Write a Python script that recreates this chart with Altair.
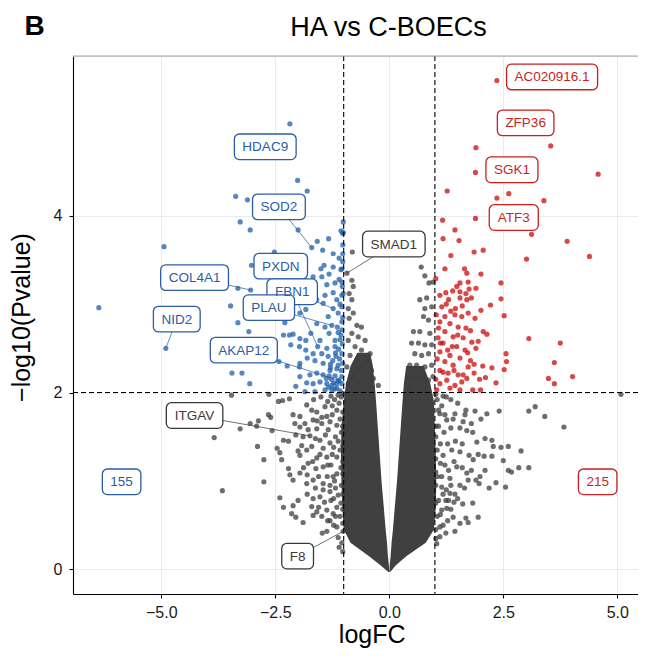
import altair as alt
import pandas as pd

FONT = "Liberation Sans"

# ---------------- data (logFC, -log10 Pvalue) ----------------
blue_pts = [
    (-2.18, 5.04), (-2.01, 4.40), (-1.80, 4.28), (-3.37, 4.22), (-3.11, 4.18), (-3.27, 3.93), (-3.05, 3.84), (-2.00, 3.84), (-4.94, 3.65), (-1.70, 3.64),
    (-1.58, 3.71), (-1.33, 3.74), (-1.02, 3.67), (-1.23, 3.57), (-1.01, 3.93), (-2.52, 3.59), (-3.02, 3.44), (-1.50, 3.40), (-1.32, 3.34), (-1.04, 3.40),
    (-1.67, 3.31), (-1.48, 3.31), (-1.37, 3.22), (-1.19, 3.24), (-1.04, 3.25), (-3.32, 3.18), (-3.04, 3.16), (-1.41, 3.10), (-1.23, 3.13), (-1.04, 3.10),
    (-3.48, 2.98), (-1.83, 2.94), (-1.96, 2.90), (-1.23, 2.95), (-1.12, 2.90), (-1.04, 2.80), (-3.32, 2.79), (-2.29, 2.79), (-1.59, 2.78), (-1.41, 2.74),
    (-1.26, 2.76), (-1.12, 2.68), (-3.08, 2.69), (-4.90, 2.50), (-2.32, 2.65), (-2.19, 2.65), (-2.11, 2.66), (-1.96, 2.61), (-1.83, 2.59), (-2.16, 2.54),
    (-1.97, 2.52), (-1.57, 2.52), (-1.37, 2.50), (-1.19, 2.52), (-1.08, 2.60), (-1.83, 2.48), (-1.67, 2.44), (-1.48, 2.44), (-1.34, 2.41), (-1.17, 2.41),
    (-1.04, 2.44), (-2.42, 2.35), (-1.80, 2.39), (-1.63, 2.36), (-1.96, 2.33), (-2.24, 2.30), (-1.97, 2.29), (-1.45, 2.33), (-1.29, 2.32), (-1.12, 2.31),
    (-3.45, 2.22), (-3.23, 2.22), (-1.96, 2.18), (-1.74, 2.20), (-1.59, 2.22), (-1.45, 2.20), (-1.32, 2.19), (-1.19, 2.19), (-1.04, 2.18), (-3.06, 2.10),
    (-2.05, 2.07), (-1.81, 2.11), (-1.67, 2.10), (-1.52, 2.12), (-1.37, 2.10), (-1.26, 2.08), (-1.15, 2.10), (-1.04, 2.10), (-1.85, 2.01), (-1.63, 2.01),
    (-1.41, 2.03), (-1.26, 2.03), (-1.15, 2.05), (-1.12, 2.14), (-1.30, 2.25), (-6.37, 2.96), (-1.34, 2.86), (-1.45, 3.01), (-1.59, 3.05), (-1.72, 2.67),
    (-1.32, 2.67), (-1.19, 2.59), (-1.52, 2.59), (-1.04, 2.71), (-1.04, 2.97), (-1.15, 3.05), (-1.01, 3.12), (-1.23, 3.42), (-1.10, 3.52), (-1.02, 3.57),
    (-1.43, 3.44), (-1.46, 3.61), (-1.06, 3.39), (-1.08, 2.02), (-1.20, 2.04), (-1.33, 2.06), (-1.10, 2.13), (-1.22, 2.11), (-1.05, 2.25), (-1.15, 2.27),
    (-1.27, 2.15), (-1.38, 2.16), (-1.02, 2.33), (-1.09, 2.38), (-1.18, 2.45), (-1.24, 2.36), (-1.03, 2.55), (-1.11, 2.49), (-1.29, 2.28), (-1.06, 2.65),
    (-1.14, 2.74), (-1.02, 2.85), (-1.08, 3.00), (-1.03, 3.20), (-1.10, 3.28), (-1.02, 3.48), (-1.06, 3.83), (-1.02, 3.80),
]

red_pts = [
    (2.36, 5.53), (1.90, 4.77), (3.54, 4.79), (1.89, 4.49), (4.58, 4.47), (1.27, 4.28), (2.36, 4.20), (2.62, 4.25), (3.39, 4.17), (1.17, 3.95),
    (1.89, 3.97), (1.44, 3.84), (3.12, 3.79), (1.18, 3.74), (1.53, 3.72), (3.90, 3.71), (1.86, 3.59), (2.06, 3.61), (1.35, 3.55), (3.01, 3.51),
    (4.39, 3.54), (1.70, 3.35), (2.01, 3.34), (1.73, 3.25), (2.45, 3.24), (1.55, 3.24), (1.02, 3.29), (1.11, 3.10), (1.24, 3.13), (1.39, 3.15),
    (1.55, 3.14), (1.75, 3.17), (1.55, 3.07), (1.70, 3.05), (2.45, 3.06), (2.22, 2.99), (2.01, 2.93), (2.52, 2.87), (1.22, 2.86), (1.44, 2.88),
    (1.59, 2.86), (1.73, 2.90), (1.88, 2.84), (1.11, 2.80), (1.33, 2.78), (1.51, 2.74), (1.68, 2.73), (2.06, 2.69), (2.14, 2.66), (1.22, 2.69),
    (1.40, 2.63), (1.81, 2.57), (3.06, 2.61), (3.75, 2.56), (1.18, 2.56), (1.48, 2.52), (1.66, 2.48), (1.90, 2.50), (2.56, 2.44), (1.11, 2.46),
    (1.33, 2.42), (1.55, 2.39), (2.57, 2.35), (3.62, 2.34), (1.22, 2.35), (1.40, 2.31), (1.73, 2.29), (1.86, 2.32), (2.05, 2.30), (2.52, 2.26),
    (1.11, 2.25), (1.29, 2.22), (1.51, 2.20), (1.70, 2.16), (1.86, 2.22), (2.11, 2.17), (3.49, 2.16), (3.62, 2.10), (4.02, 2.18), (2.34, 2.11),
    (1.11, 2.10), (1.26, 2.14), (1.44, 2.08), (1.59, 2.12), (1.83, 2.03), (1.04, 2.03), (1.33, 2.05), (1.55, 2.03), (1.02, 2.15), (1.05, 2.38),
    (1.07, 2.62), (1.03, 2.88), (1.15, 2.97), (1.25, 3.00), (1.35, 2.92), (1.45, 2.95), (1.60, 2.98), (1.68, 3.12), (1.62, 2.62), (1.72, 2.45),
    (1.78, 2.70), (1.50, 2.65), (1.38, 2.52), (1.28, 2.48), (1.18, 2.23), (1.42, 2.25), (1.62, 2.20), (1.78, 2.36), (1.95, 2.58), (1.98, 2.15),
    (2.25, 2.28), (1.08, 2.73), (1.30, 3.05), (1.48, 3.20), (1.65, 3.40), (1.80, 3.07), (1.90, 3.18), (1.22, 3.40), (2.00, 2.03), (1.12, 2.56),
]

gray_pts = [
    # left of -1, below the p threshold
    (-3.46, 1.97), (-2.64, 1.98), (-2.43, 1.90), (-2.34, 1.91), (-2.19, 1.93), (-1.81, 1.86), (-2.11, 1.75), (-1.96, 1.73), (-1.59, 1.78), (-1.41, 1.84),
    (-2.65, 1.75), (-2.60, 1.72), (-3.05, 1.65), (-2.87, 1.68), (-2.91, 1.62), (-3.27, 1.59), (-2.57, 1.57), (-2.07, 1.65), (-1.96, 1.61), (-1.78, 1.58),
    (-1.59, 1.59), (-1.48, 1.65), (-1.34, 1.58), (-3.84, 1.49), (-2.32, 1.46), (-2.21, 1.45), (-1.52, 1.46), (-1.30, 1.43), (-2.89, 1.39), (-2.46, 1.37),
    (-2.40, 1.32), (-2.00, 1.34), (-1.81, 1.35), (-1.70, 1.39), (-1.45, 1.37), (-2.36, 1.24), (-2.75, 1.24), (-1.96, 1.29), (-1.59, 1.26), (-1.37, 1.27),
    (-1.15, 1.27), (-2.21, 1.14), (-2.18, 1.07), (-2.11, 1.01), (-1.96, 1.09), (-1.80, 1.07), (-1.61, 1.14), (-1.45, 1.16), (-2.75, 0.99), (-1.81, 0.97),
    (-1.67, 1.01), (-1.45, 0.97), (-1.23, 1.05), (-3.66, 0.89), (-1.45, 0.90), (-1.30, 0.88), (-2.40, 0.81), (-2.00, 0.78), (-1.67, 0.80), (-1.52, 0.82),
    (-1.12, 0.84), (-2.32, 0.70), (-2.11, 0.72), (-1.70, 0.71), (-1.59, 0.65), (-1.37, 0.67), (-2.14, 0.63), (-2.05, 0.59), (-1.67, 0.61), (-1.23, 0.63),
    (-1.89, 0.53), (-1.47, 0.41), (-1.37, 0.43), (-1.15, 0.48), (-1.15, 1.63), (-1.15, 1.80), (-1.37, 1.73), (-1.67, 1.69), (-1.78, 1.20), (-1.89, 1.50),
    (-1.74, 1.51), (-1.01, 0.43), (-1.05, 1.95), (-1.10, 1.88), (-1.20, 1.92), (-1.08, 1.70), (-1.25, 1.75), (-1.05, 1.55), (-1.18, 1.50), (-1.22, 1.38),
    (-1.08, 1.35), (-1.06, 1.15), (-1.15, 1.08), (-1.28, 1.18), (-1.05, 0.95), (-1.18, 0.92), (-1.06, 0.75), (-1.28, 0.78), (-1.08, 0.60), (-1.12, 0.36),
    (-1.04, 0.30), (-1.30, 0.55), (-1.02, 1.99), (-1.12, 1.97), (-1.28, 1.96), (-1.50, 1.95), (-1.66, 1.92), (-1.25, 1.85), (-1.35, 1.90), (-1.48, 1.72),
    (-1.58, 1.68), (-1.30, 1.67), (-1.02, 1.78), (-1.40, 1.52), (-1.62, 1.48), (-1.12, 1.45), (-1.25, 1.30), (-1.52, 1.30), (-1.68, 1.22), (-1.35, 1.18),
    (-1.02, 1.22), (-1.20, 1.00), (-1.36, 1.05), (-1.55, 1.05), (-1.62, 0.92), (-1.30, 0.95), (-1.02, 0.85), (-1.22, 0.80), (-1.42, 0.76), (-1.55, 0.70),
    (-1.15, 0.70), (-1.80, 0.85), (-1.88, 1.15), (-1.92, 1.40), (-2.05, 1.52), (-1.70, 1.80), (-1.85, 1.65), (-1.22, 0.50), (-1.35, 0.55), (-1.02, 0.52),
    (-1.10, 0.25), (-1.02, 0.20), (-1.18, 0.60), (-1.48, 0.60), (-1.02, 1.62), (-1.02, 1.40), (-1.02, 1.08), (-1.02, 0.68),
    # right of +1, below the p threshold
    (5.08, 1.98), (3.20, 1.84), (3.06, 1.79), (3.41, 1.73), (3.83, 1.61), (2.41, 1.79), (2.14, 1.76), (1.88, 1.79), (1.68, 1.80), (1.66, 1.75),
    (1.44, 1.76), (2.01, 1.70), (1.62, 1.67), (1.26, 1.69), (1.11, 1.76), (1.70, 1.57), (1.83, 1.55), (2.10, 1.48), (2.25, 1.46), (1.92, 1.44),
    (2.61, 1.39), (2.45, 1.38), (2.89, 1.34), (2.28, 1.39), (2.08, 1.28), (2.25, 1.28), (1.75, 1.29), (1.55, 1.33), (1.37, 1.35), (1.18, 1.29),
    (1.84, 1.24), (2.50, 1.23), (2.84, 1.15), (3.06, 1.15), (2.61, 1.12), (2.68, 1.10), (2.10, 1.12), (1.70, 1.09), (1.48, 1.16), (1.99, 1.05),
    (1.90, 1.01), (1.73, 1.01), (2.34, 0.98), (2.55, 0.93), (2.19, 0.92), (1.97, 0.97), (1.33, 1.03), (1.55, 0.95), (1.15, 0.93), (1.33, 0.86),
    (1.44, 0.85), (1.24, 0.78), (1.42, 0.76), (1.61, 0.74), (1.83, 0.75), (1.26, 0.69), (1.15, 0.67), (1.40, 0.59), (1.95, 0.59), (1.73, 0.53),
    (1.68, 0.58), (1.55, 0.52), (1.44, 0.43), (1.11, 0.48), (1.24, 0.41), (1.11, 0.37), (1.04, 0.29), (1.05, 1.92), (1.15, 1.85), (1.25, 1.95),
    (1.08, 1.62), (1.20, 1.55), (1.35, 1.60), (1.05, 1.35), (1.12, 1.20), (1.30, 1.12), (1.06, 1.05), (1.18, 0.85), (1.08, 0.78), (1.35, 0.95),
    (1.05, 0.60), (1.28, 0.55), (1.02, 1.98), (1.18, 1.96), (1.35, 1.92), (1.50, 1.88), (1.08, 1.80), (1.22, 1.75), (1.40, 1.70), (1.55, 1.60),
    (1.02, 1.50), (1.12, 1.42), (1.28, 1.42), (1.45, 1.45), (1.02, 1.25), (1.22, 1.18), (1.42, 1.22), (1.60, 1.15), (1.02, 0.95), (1.15, 1.05),
    (1.25, 0.90), (1.50, 0.80), (1.02, 0.75), (1.12, 0.62), (1.35, 0.68), (1.02, 0.45), (1.18, 0.50), (1.02, 0.35), (1.65, 0.92), (1.80, 1.12),
    (1.95, 1.30), (1.60, 1.42), (1.80, 1.65), (1.02, 1.62), (1.02, 1.10), (1.30, 0.78),
    # between -1 and 0, above the p threshold
    (-1.01, 3.81), (-0.81, 3.59), (-0.93, 3.35), (-0.82, 3.27), (-0.79, 3.20), (-0.88, 3.12), (-0.82, 3.05), (-0.90, 2.95), (-0.79, 2.90), (-0.88, 2.84),
    (-0.71, 2.76), (-0.61, 2.74), (-0.82, 2.67), (-0.68, 2.63), (-0.53, 2.59), (-0.90, 2.59), (-0.75, 2.52), (-0.61, 2.48), (-0.42, 2.44), (-0.86, 2.42),
    (-0.71, 2.37), (-0.50, 2.35), (-0.93, 2.29), (-0.64, 2.27), (-0.39, 2.25), (-0.79, 2.18), (-0.53, 2.14), (-0.35, 2.16), (-0.90, 2.10), (-0.68, 2.08),
    (-0.42, 2.07), (-0.24, 2.08),
    # between 0 and +1, above the p threshold
    (0.70, 3.42), (0.78, 3.32), (0.87, 3.24), (0.96, 3.25), (0.67, 3.05), (0.82, 3.07), (0.78, 2.95), (0.93, 2.97), (0.75, 2.86), (0.86, 2.82),
    (0.53, 2.69), (0.67, 2.69), (0.89, 2.67), (0.49, 2.56), (0.64, 2.56), (0.78, 2.54), (0.93, 2.54), (0.56, 2.44), (0.71, 2.42), (0.86, 2.44),
    (0.45, 2.31), (0.60, 2.31), (0.78, 2.29), (0.93, 2.31), (0.42, 2.18), (0.56, 2.16), (0.71, 2.18), (0.86, 2.14), (0.96, 2.18), (0.45, 2.07),
    (0.64, 2.05), (0.82, 2.05),
]

# outline of the solid, fully overplotted core of non-significant genes
core_left_y = [-0.03, 0.05, 0.15, 0.30, 0.45, 0.70, 1.00, 1.30, 1.60, 1.90, 2.10, 2.30, 2.45]
core_left_xl = [-0.02, -0.20, -0.45, -0.85, -1.00, -1.03, -1.05, -1.06, -1.05, -1.00, -0.95, -0.85, -0.70]
core_left_xr = [0.00, -0.01, -0.03, -0.05, -0.08, -0.12, -0.17, -0.21, -0.25, -0.29, -0.32, -0.36, -0.42]
core_right_y = [-0.03, 0.05, 0.15, 0.30, 0.45, 0.70, 1.00, 1.30, 1.60, 1.90, 2.10, 2.30]
core_right_xl = [0.00, 0.01, 0.03, 0.05, 0.08, 0.12, 0.17, 0.21, 0.25, 0.29, 0.32, 0.37]
core_right_xr = [0.02, 0.15, 0.38, 0.80, 0.98, 1.02, 1.03, 1.02, 1.00, 0.98, 0.90, 0.75]

# labels: text, group, label centre (logFC, -log10P), labelled gene (logFC, -log10P) or None
label_text = ["HDAC9", "SOD2", "PXDN", "COL4A1", "FBN1", "PLAU", "NID2", "AKAP12",
              "SMAD1", "ITGAV", "F8",
              "AC020916.1", "ZFP36", "SGK1", "ATF3",
              "155", "215"]
label_group = ["down"] * 8 + ["ns"] * 3 + ["up"] * 4 + ["down", "up"]
label_cx = [-2.72, -2.42, -2.38, -4.27, -2.13, -2.64, -4.66, -3.19,
            0.10, -4.27, -2.01,
            3.57, 2.99, 2.69, 2.73,
            -5.87, 4.57]
label_cy = [4.78, 4.10, 3.43, 3.30, 3.14, 2.96, 2.83, 2.48,
            3.68, 1.74, 0.15,
            5.57, 5.05, 4.52, 3.98,
            0.99, 0.99]
label_px = [None, -1.70, -1.57, -3.04, -1.23, -1.26, -4.90, -1.12,
            -0.93, -1.74, -1.01,
            None, None, None, None, None, None]
label_py = [None, 3.64, 2.52, 3.16, 2.95, 2.76, 2.50, 2.14,
            3.35, 1.51, 0.43,
            None, None, None, None, None, None]

# ---------------- layout ----------------
PAD_L, PAD_T = 65, 48
W, H = 565, 538
PX_X = 45.60
PX_Y = 88.40
XMIN = -6.936
XMAX = XMIN + W / PX_X
YMIN = -0.279
YMAX = YMIN + H / PX_Y

groups = ["down", "ns", "up"]
group_cols = ["#2B5DA6", "#3A3A3A", "#C91F1F"]

AW = {c: 667 for c in "ABEKPSVXY"}
AW.update({c: 722 for c in "CDHNRU"})
AW.update({c: 778 for c in "GOQ"})
AW.update({"F": 611, "T": 611, "Z": 611, "I": 278, "J": 500, "L": 556, "M": 833, "W": 944, ".": 278})
AW.update({c: 556 for c in "0123456789"})
LAB_FS = 13.5


def text_w(s, fs):
    return sum(AW.get(ch, 600) for ch in s) / 1000 * fs


rows = []
for i, t in enumerate(label_text):
    hw = (text_w(t, LAB_FS) / 2 + 8.0) / PX_X
    hh = 12.8 / PX_Y
    rows.append(dict(text=t, grp=label_group[i], cx=label_cx[i], cy=label_cy[i],
                     x1=label_cx[i] - hw, x2=label_cx[i] + hw,
                     y1=label_cy[i] - hh, y2=label_cy[i] + hh,
                     px=label_px[i], py=label_py[i]))
lab_df = pd.DataFrame(rows)
seg_df = lab_df.dropna(subset=["px"])

blue_df = pd.DataFrame(blue_pts, columns=["x", "y"])
red_df = pd.DataFrame(red_pts, columns=["x", "y"])
gray_df = pd.DataFrame(gray_pts, columns=["x", "y"])
coreL = pd.DataFrame({"y": core_left_y, "x": core_left_xl, "x2": core_left_xr})
coreR = pd.DataFrame({"y": core_right_y, "x": core_right_xl, "x2": core_right_xr})

xscale = alt.Scale(domain=[XMIN, XMAX], nice=False, zero=False)
yscale = alt.Scale(domain=[YMIN, YMAX], nice=False, zero=False)

xaxis = alt.Axis(values=[-5, -2.5, 0, 2.5, 5], format=".1f", title="logFC",
                 grid=True, gridColor="#EBEBEB", gridWidth=1,
                 domainColor="black", domainWidth=1.1, tickColor="black", tickSize=4, tickWidth=1.1,
                 labelFont=FONT, labelFontSize=16, labelColor="#1A1A1A",
                 labelBaseline="alphabetic", labelPadding=19, labelFlush=False,
                 titleFont=FONT, titleFontSize=25, titleFontWeight="normal", titleColor="black",
                 titleX=298.7, titleY=48.5, titleBaseline="alphabetic", titleAlign="center")
yaxis = alt.Axis(values=[0, 2, 4], format="d", title="\u2212log10(Pvalue)",
                 grid=True, gridColor="#EBEBEB", gridWidth=1,
                 domainColor="black", domainWidth=1.1, tickColor="black", tickSize=4, tickWidth=1.1,
                 labelFont=FONT, labelFontSize=16, labelColor="#1A1A1A", labelPadding=7,
                 labelFlush=False,
                 titleFont=FONT, titleFontSize=25, titleFontWeight="normal", titleColor="black",
                 titleAngle=270, titleX=-43.5, titleY=261, titleBaseline="alphabetic", titleAlign="center")


def X(field):
    return alt.X(field, type="quantitative", scale=xscale, axis=xaxis)


def Y(field):
    return alt.Y(field, type="quantitative", scale=yscale, axis=yaxis)


core_l = alt.Chart(coreL).mark_area(orient="horizontal", color="#404040", opacity=1).encode(
    y=Y("y"), x=X("x"), x2="x2")
core_r = alt.Chart(coreR).mark_area(orient="horizontal", color="#404040", opacity=1).encode(
    y=Y("y"), x=X("x"), x2="x2")

PT = 27
gray = alt.Chart(gray_df).mark_circle(size=PT, color="#3D3D3D", opacity=0.75).encode(x=X("x"), y=Y("y"))
blue = alt.Chart(blue_df).mark_circle(size=PT, color="#1F5FAA", opacity=0.75).encode(x=X("x"), y=Y("y"))
red = alt.Chart(red_df).mark_circle(size=PT, color="#CC0000", opacity=0.72).encode(x=X("x"), y=Y("y"))

vlines = alt.Chart(pd.DataFrame({"x": [-1.0, 1.0]})).mark_rule(
    color="black", strokeDash=[5, 3], strokeWidth=1.1).encode(x=X("x"))
hline = alt.Chart(pd.DataFrame({"y": [2.0]})).mark_rule(
    color="black", strokeDash=[5, 3], strokeWidth=1.1).encode(y=Y("y"))

col_scale = alt.Scale(domain=groups, range=group_cols)

segs = alt.Chart(seg_df).mark_rule(strokeWidth=0.8, opacity=0.9).encode(
    x=X("cx"), y=Y("cy"), x2="px", y2="py",
    color=alt.Color("grp:N", scale=col_scale, legend=None))

boxes = alt.Chart(lab_df).mark_rect(fill="white", strokeWidth=1.3, cornerRadius=5).encode(
    x=X("x1"), x2="x2", y=Y("y1"), y2="y2",
    stroke=alt.Stroke("grp:N", scale=col_scale, legend=None))

texts = alt.Chart(lab_df).mark_text(font=FONT, fontSize=LAB_FS, baseline="middle", align="center", dy=0.5).encode(
    x=X("cx"), y=Y("cy"), text="text:N",
    color=alt.Color("grp:N", scale=col_scale, legend=None))

top_border = alt.Chart(pd.DataFrame({"a": [0]})).mark_rule(color="#A8A8A8", strokeWidth=1.2).encode(
    x=alt.value(0), x2=alt.value(W), y=alt.value(0))

panel_tag = alt.Chart(pd.DataFrame({"t": ["B"]})).mark_text(
    font=FONT, fontSize=28, fontWeight="bold", align="left", baseline="alphabetic", color="black").encode(
    x=alt.value(-48.5), y=alt.value(-21), text="t:N")

main_title = alt.Chart(pd.DataFrame({"t": ["HA vs C-BOECs"]})).mark_text(
    font=FONT, fontSize=27, align="center", baseline="alphabetic", color="black").encode(
    x=alt.value(315.5), y=alt.value(-20), text="t:N")

chart = alt.layer(
    core_l, core_r, gray, blue, red, vlines, hline, segs, boxes, texts, top_border, panel_tag, main_title
).properties(
    width=W, height=H,
    autosize=alt.AutoSizeParams(type="none"),
    padding={"left": PAD_L, "top": PAD_T, "right": 0, "bottom": 54},
).configure_view(stroke=None).configure(background="white")

chart.save("out.html", embed_options={"renderer": "svg", "actions": False})
